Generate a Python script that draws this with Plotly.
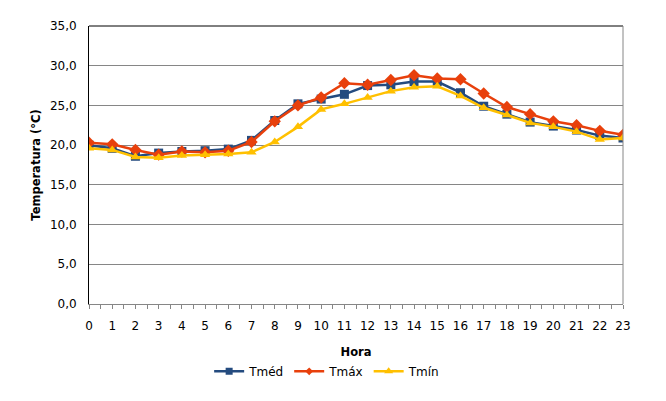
import plotly.graph_objects as go

hours = list(range(24))
tmed = [20.0, 19.6, 18.6, 19.0, 19.2, 19.3, 19.5, 20.6, 23.1, 25.2, 25.8, 26.4,
        27.5, 27.6, 28.0, 28.0, 26.6, 24.9, 23.9, 22.9, 22.4, 21.9, 21.2, 20.9]
tmax = [20.3, 20.1, 19.4, 18.8, 19.2, 19.1, 19.3, 20.4, 23.0, 25.0, 26.0, 27.8,
        27.6, 28.2, 28.8, 28.4, 28.3, 26.5, 24.8, 23.9, 23.0, 22.5, 21.8, 21.3]
tmin = [19.6, 19.4, 18.5, 18.4, 18.7, 18.8, 18.9, 19.1, 20.4, 22.3, 24.5, 25.2,
        26.0, 26.8, 27.3, 27.4, 26.2, 24.7, 23.8, 22.8, 22.3, 21.7, 20.7, 20.9]
y_ticks = [0, 5, 10, 15, 20, 25, 30, 35]
y_labels = ["0,0", "5,0", "10,0", "15,0", "20,0", "25,0", "30,0", "35,0"]

FONT = "DejaVu Sans"

series = [
    ("Tméd", tmed, "#244B7F", "square", 9, 7),
    ("Tmáx", tmax, "#E8400C", "diamond", 9.5, 6),
    ("Tmín", tmin, "#FFC000", "triangle-up", 9, 8),
]

fig = go.Figure()
for name, vals, color, sym, msize, lsize in series:
    fig.add_trace(go.Scatter(x=hours, y=vals, name=name, mode="lines+markers",
                             showlegend=False, legendgroup=name,
                             line=dict(color=color, width=2.5),
                             marker=dict(symbol=sym, size=msize, color=color)))
for name, vals, color, sym, msize, lsize in series:
    # legend entry with the smaller legend-key marker
    fig.add_trace(go.Scatter(x=[None], y=[None], name=name, mode="lines+markers",
                             showlegend=True, legendgroup=name,
                             line=dict(color=color, width=2.5),
                             marker=dict(symbol=sym, size=lsize, color=color)))

fig.update_layout(
    width=666, height=401,
    margin=dict(l=81, r=51, t=11, b=105),
    paper_bgcolor="white", plot_bgcolor="white",
    font=dict(family=FONT, size=12, color="#000000"),
    showlegend=True,
    legend=dict(orientation="h", x=0.225, xanchor="left", y=-0.242, yanchor="middle",
                font=dict(family=FONT, size=12), itemwidth=30,
                tracegroupgap=0),
    xaxis=dict(range=[0, 23], tickvals=hours, ticktext=[str(h) for h in hours],
               showgrid=False, zeroline=False, showline=True, linecolor="#868686",
               linewidth=1, ticks="outside", ticklen=4, tickcolor="#868686",
               minor=dict(dtick=0.5, ticks="outside", ticklen=4, tickcolor="#868686"),
               tickfont=dict(family=FONT, size=12), ticklabelstandoff=7,
               title=dict(text="<b>Hora</b>", font=dict(family=FONT, size=11.5), standoff=15)),
    yaxis=dict(range=[0, 35], tickvals=y_ticks, ticktext=y_labels,
               showgrid=True, gridcolor="#868686", gridwidth=1, zeroline=False,
               showline=True, linecolor="#000000", linewidth=1, ticks="",
               tickfont=dict(family=FONT, size=12), ticklabelstandoff=9,
               title=dict(text="<b>Temperatura (°C)</b>", font=dict(family=FONT, size=11.5),
                          standoff=6)),
    shapes=[
        dict(type="line", xref="paper", yref="paper", x0=0, x1=1, y0=1, y1=1,
             line=dict(color="#000000", width=1)),
        dict(type="line", xref="paper", yref="paper", x0=1, x1=1, y0=0, y1=1,
             line=dict(color="#868686", width=1)),
    ],
)

fig.write_html("out.html")
